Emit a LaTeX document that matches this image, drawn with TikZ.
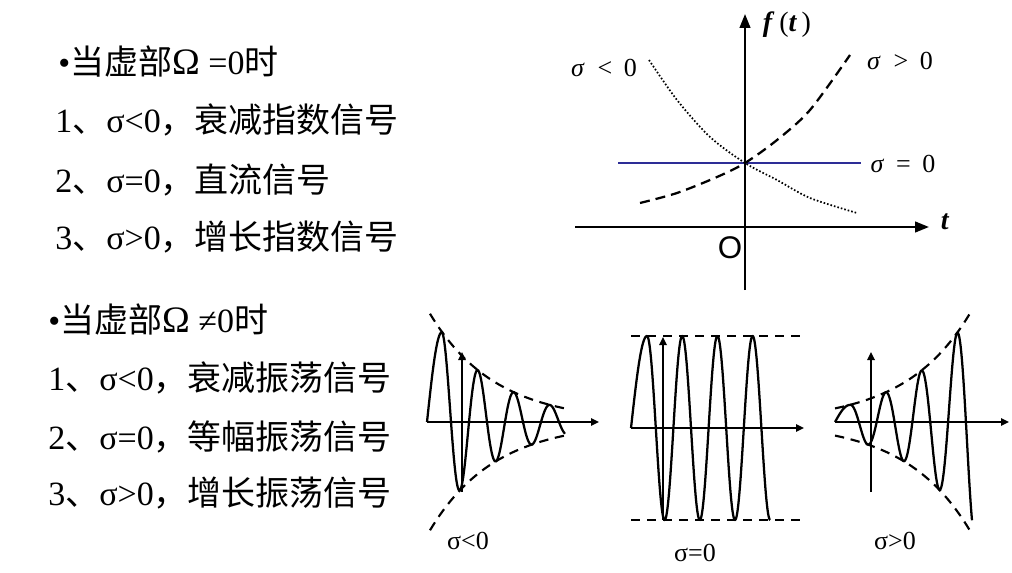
\documentclass[tikz,border=0pt]{standalone}
\usepackage{fontspec}
\setmainfont{Liberation Serif}
\newfontfamily\cjk{Noto Sans CJK SC}
\newfontfamily\arialf{Liberation Sans}
\usetikzlibrary{arrows.meta}
\definecolor{navyline}{RGB}{45,45,150}
\begin{document}
\begin{tikzpicture}[x=0.75pt,y=-0.75pt,
  txt/.style={anchor=west, inner sep=0pt, font=\fontsize{25.5}{30}\selectfont},
  lbl/.style={inner sep=0pt, font=\fontsize{19.5}{22}\selectfont},
  bigaxis/.style={line width=1.7pt, -{Triangle[length=10.5pt,width=8pt]}},
  smallaxis/.style={line width=1.7pt, -{Triangle[length=6pt,width=5.5pt]}},
  wave/.style={line width=1.7pt, line join=round},
  env/.style={line width=1.6pt, dash pattern=on 7pt off 5pt},
  dotcurve/.style={line width=1.3pt, dash pattern=on 1.2pt off 1.5pt},
  dashcurve/.style={line width=1.7pt, dash pattern=on 7.5pt off 4.5pt}
]
\useasboundingbox (0,0) rectangle (1012,573);

% ---------- text list ----------
\node[txt] (h1) at (58,62) {•{\cjk 当虚部}{\fontsize{28}{30}\selectfont Ω} =0{\cjk 时}};
\node[txt] (a1) at (55,120) {1{\cjk 、}σ<0{\cjk ，衰减指数信号}};
\node[txt] (a2) at (55,180) {2{\cjk 、}σ=0{\cjk ，直流信号}};
\node[txt] (a3) at (55,237) {3{\cjk 、}σ>0{\cjk ，增长指数信号}};
\node[txt] (h2) at (48,320) {•{\cjk 当虚部}{\fontsize{28}{30}\selectfont Ω} ≠0{\cjk 时}};
\node[txt] (b1) at (48,378) {1{\cjk 、}σ<0{\cjk ，衰减振荡信号}};
\node[txt] (b2) at (48,437) {2{\cjk 、}σ=0{\cjk ，等幅振荡信号}};
\node[txt] (b3) at (48,493) {3{\cjk 、}σ>0{\cjk ，增长振荡信号}};

% ---------- top graph ----------
\coordinate (tyb) at (745,290);
\coordinate (tyt) at (745,14);
\coordinate (txl) at (575,227);
\coordinate (txr) at (929,227);
\coordinate (s0l) at (618,163);
\coordinate (s0r) at (861,163);
\draw[navyline, line width=1.5pt] (s0l) -- (s0r);
\draw[dotcurve] plot[smooth] coordinates {(649,60) (677,100) (710,137) (745,163) (777,180) (810,198) (857,213)};
\draw[dashcurve] plot[smooth] coordinates {(640,203) (677,193) (717,177) (745,163) (777,140) (810,110) (850,55)};
\draw[bigaxis] (txl) -- (txr);
\draw[bigaxis] (tyb) -- (tyt);
\node[lbl, font=\fontsize{21}{24}\selectfont] (ft) at (787,25) {\textbf{\textit{f}}\,(\textbf{\textit{t}}\,)};
\node[lbl, font=\fontsize{21}{24}\selectfont] (tl) at (945,222) {\textbf{\textit{t}}};
\node[inner sep=0pt, font=\arialf\fontsize{23.5}{26}\selectfont] (O) at (730,248) {O};
\node[lbl] (lneg) at (604,68) {\textit{σ}\hspace{0.5em}<\hspace{0.45em}0};
\node[lbl] (lpos) at (900,61) {\textit{σ}\hspace{0.5em}>\hspace{0.45em}0};
\node[lbl] (lzero) at (903,164) {\textit{σ}\hspace{0.45em}=\hspace{0.45em}0};

% ---------- bottom plot 1: sigma<0 ----------
\coordinate (p1xl) at (427,422);
\coordinate (p1xr) at (599,422);
\coordinate (p1yb) at (462,492);
\coordinate (p1yt) at (462,352);
\draw[env] plot[domain=430:565, samples=40] (\x, {422 - 90*exp(-0.0154*(\x-442))});
\draw[env] plot[domain=430:565, samples=40] (\x, {422 + 90*exp(-0.0154*(\x-442))});
\draw[wave] plot[domain=427:442, samples=30] (\x, {422 - 90*sin(6*(\x-427))})
  -- plot[domain=442:565, samples=300] (\x, {422 - 90*exp(-0.0154*(\x-442))*cos(10*(\x-442))});
\draw[smallaxis] (p1xl) -- (p1xr);
\draw[smallaxis] (p1yb) -- (p1yt);
\node[lbl] (l1) at (468,541) {σ<0};

% ---------- bottom plot 2: sigma=0 ----------
\coordinate (p2xl) at (631,428);
\coordinate (p2xr) at (804,428);
\coordinate (p2yb) at (663,520);
\coordinate (p2yt) at (663,337);
\coordinate (p2tl) at (631,336);
\coordinate (p2tr) at (803,336);
\coordinate (p2bl) at (631,520);
\coordinate (p2br) at (803,520);
\draw[env] (p2tl) -- (p2tr);
\draw[env] (p2bl) -- (p2br);
\draw[wave] plot[domain=631:647, samples=30] (\x, {428 - 92*sin(5.625*(\x-631))})
  -- plot[domain=647:770.2, samples=300] (\x, {428 - 92*cos(10.227*(\x-647))});
\draw[smallaxis] (p2xl) -- (p2xr);
\draw[smallaxis] (p2yb) -- (p2yt);
\node[lbl] (l2) at (695,553) {σ=0};

% ---------- bottom plot 3: sigma>0 ----------
\coordinate (p3xl) at (835,422);
\coordinate (p3xr) at (1009,422);
\coordinate (p3yb) at (871,492);
\coordinate (p3yt) at (871,352);
\draw[env] plot[domain=835:970, samples=40] (\x, {422 - 89*exp(0.0154*(\x-957))});
\draw[env] plot[domain=835:970, samples=40] (\x, {422 + 89*exp(0.0154*(\x-957))});
\draw[wave] plot[domain=835:850, samples=30] (\x, {422 - 17.1*sin(6*(\x-835))})
  -- plot[domain=850:972, samples=300] (\x, {422 - 89*exp(0.0154*(\x-957))*cos(10.084*(\x-957))});
\draw[smallaxis] (p3xl) -- (p3xr);
\draw[smallaxis] (p3yb) -- (p3yt);
\node[lbl] (l3) at (895,541) {σ>0};
\end{tikzpicture}
\end{document}
